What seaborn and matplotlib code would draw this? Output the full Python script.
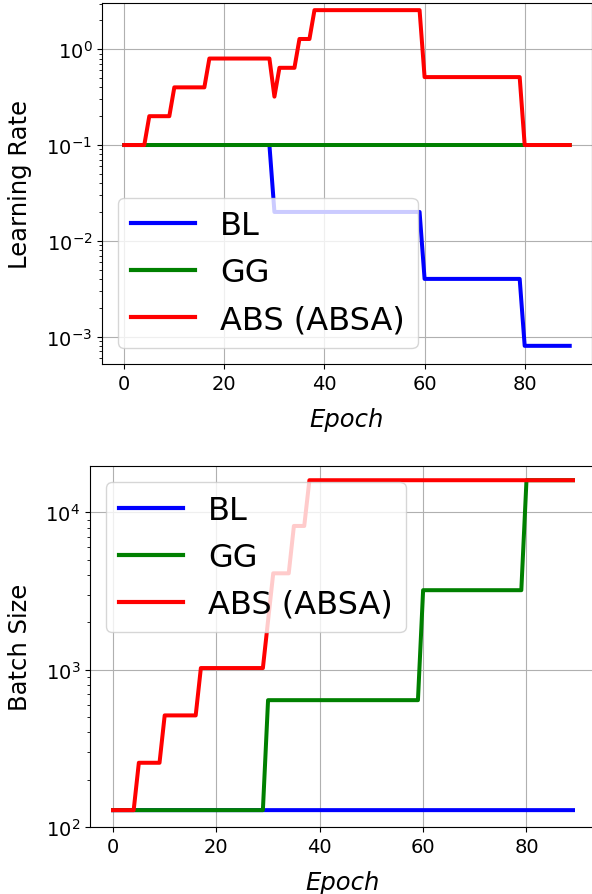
import numpy as np
import pandas as pd
import matplotlib
matplotlib.use("Agg")
import matplotlib.pyplot as plt
import seaborn as sns

# Schedules per method, stored as (value, number of epochs) step segments
methods = ["BL", "GG", "ABS (ABSA)"]
colors = {"BL": "blue", "GG": "green", "ABS (ABSA)": "red"}

lr_bl_values = [0.1, 0.02, 0.004, 0.0008]
lr_bl_lengths = [30, 30, 20, 10]
lr_gg_values = [0.1]
lr_gg_lengths = [90]
lr_abs_values = [0.1, 0.2, 0.4, 0.8, 0.32, 0.64, 1.28, 2.56, 0.512, 0.1]
lr_abs_lengths = [5, 5, 7, 13, 1, 4, 3, 22, 20, 10]

bs_bl_values = [128]
bs_bl_lengths = [90]
bs_gg_values = [128, 640, 3200, 16000]
bs_gg_lengths = [30, 30, 20, 10]
bs_abs_values = [128, 256, 512, 1024, 2048, 4096, 8192, 16000]
bs_abs_lengths = [5, 5, 7, 13, 1, 4, 3, 52]

xticks = [0, 20, 40, 60, 80]
lr_limits = (10 ** -3.2866, 10 ** 0.4829)
bs_limits = (100, 10 ** 4.2945)


def expand(values, lengths):
    return np.repeat(values, lengths)


lr = {
    "BL": expand(lr_bl_values, lr_bl_lengths),
    "GG": expand(lr_gg_values, lr_gg_lengths),
    "ABS (ABSA)": expand(lr_abs_values, lr_abs_lengths),
}
bs = {
    "BL": expand(bs_bl_values, bs_bl_lengths),
    "GG": expand(bs_gg_values, bs_gg_lengths),
    "ABS (ABSA)": expand(bs_abs_values, bs_abs_lengths),
}

rows = []
for m in methods:
    for ep, (a, b) in enumerate(zip(lr[m], bs[m])):
        rows.append({"Epoch": ep, "method": m, "lr": a, "bs": b})
df = pd.DataFrame(rows)

plt.rcParams["font.family"] = ["DejaVu Sans"]

fig = plt.figure(figsize=(5.92, 8.95), dpi=100)
ax1 = fig.add_axes([102 / 592, 1 - 365 / 895, 490 / 592, 361 / 895])
ax2 = fig.add_axes([90 / 592, 1 - 828 / 895, 506 / 592, 361 / 895])

for ax, col, ylabel, loc, lims in [
        (ax1, "lr", "Learning Rate", "lower left", lr_limits),
        (ax2, "bs", "Batch Size", "upper left", bs_limits)]:
    sns.lineplot(data=df, x="Epoch", y=col, hue="method", hue_order=methods,
                 palette=colors, linewidth=2.88, ax=ax, estimator=None)
    for line in ax.get_lines():
        line.set_snap(False)
    ax.set_yscale("log")
    ax.set_ylim(*lims)
    ax.set_xticks(xticks)
    ax.grid(True, which="major", color="#b0b0b0", linewidth=0.8)
    ax.set_xlabel("Epoch", fontsize=17.5, style="italic", labelpad=10)
    ax.set_ylabel(ylabel, fontsize=17.5, labelpad=10)
    ax.tick_params(axis="both", which="major", labelsize=14)
    leg = ax.legend(loc=loc, fontsize=23, framealpha=0.8)
    for line in leg.get_lines():
        line.set_linewidth(3)

fig.savefig("out.png", dpi=100)
